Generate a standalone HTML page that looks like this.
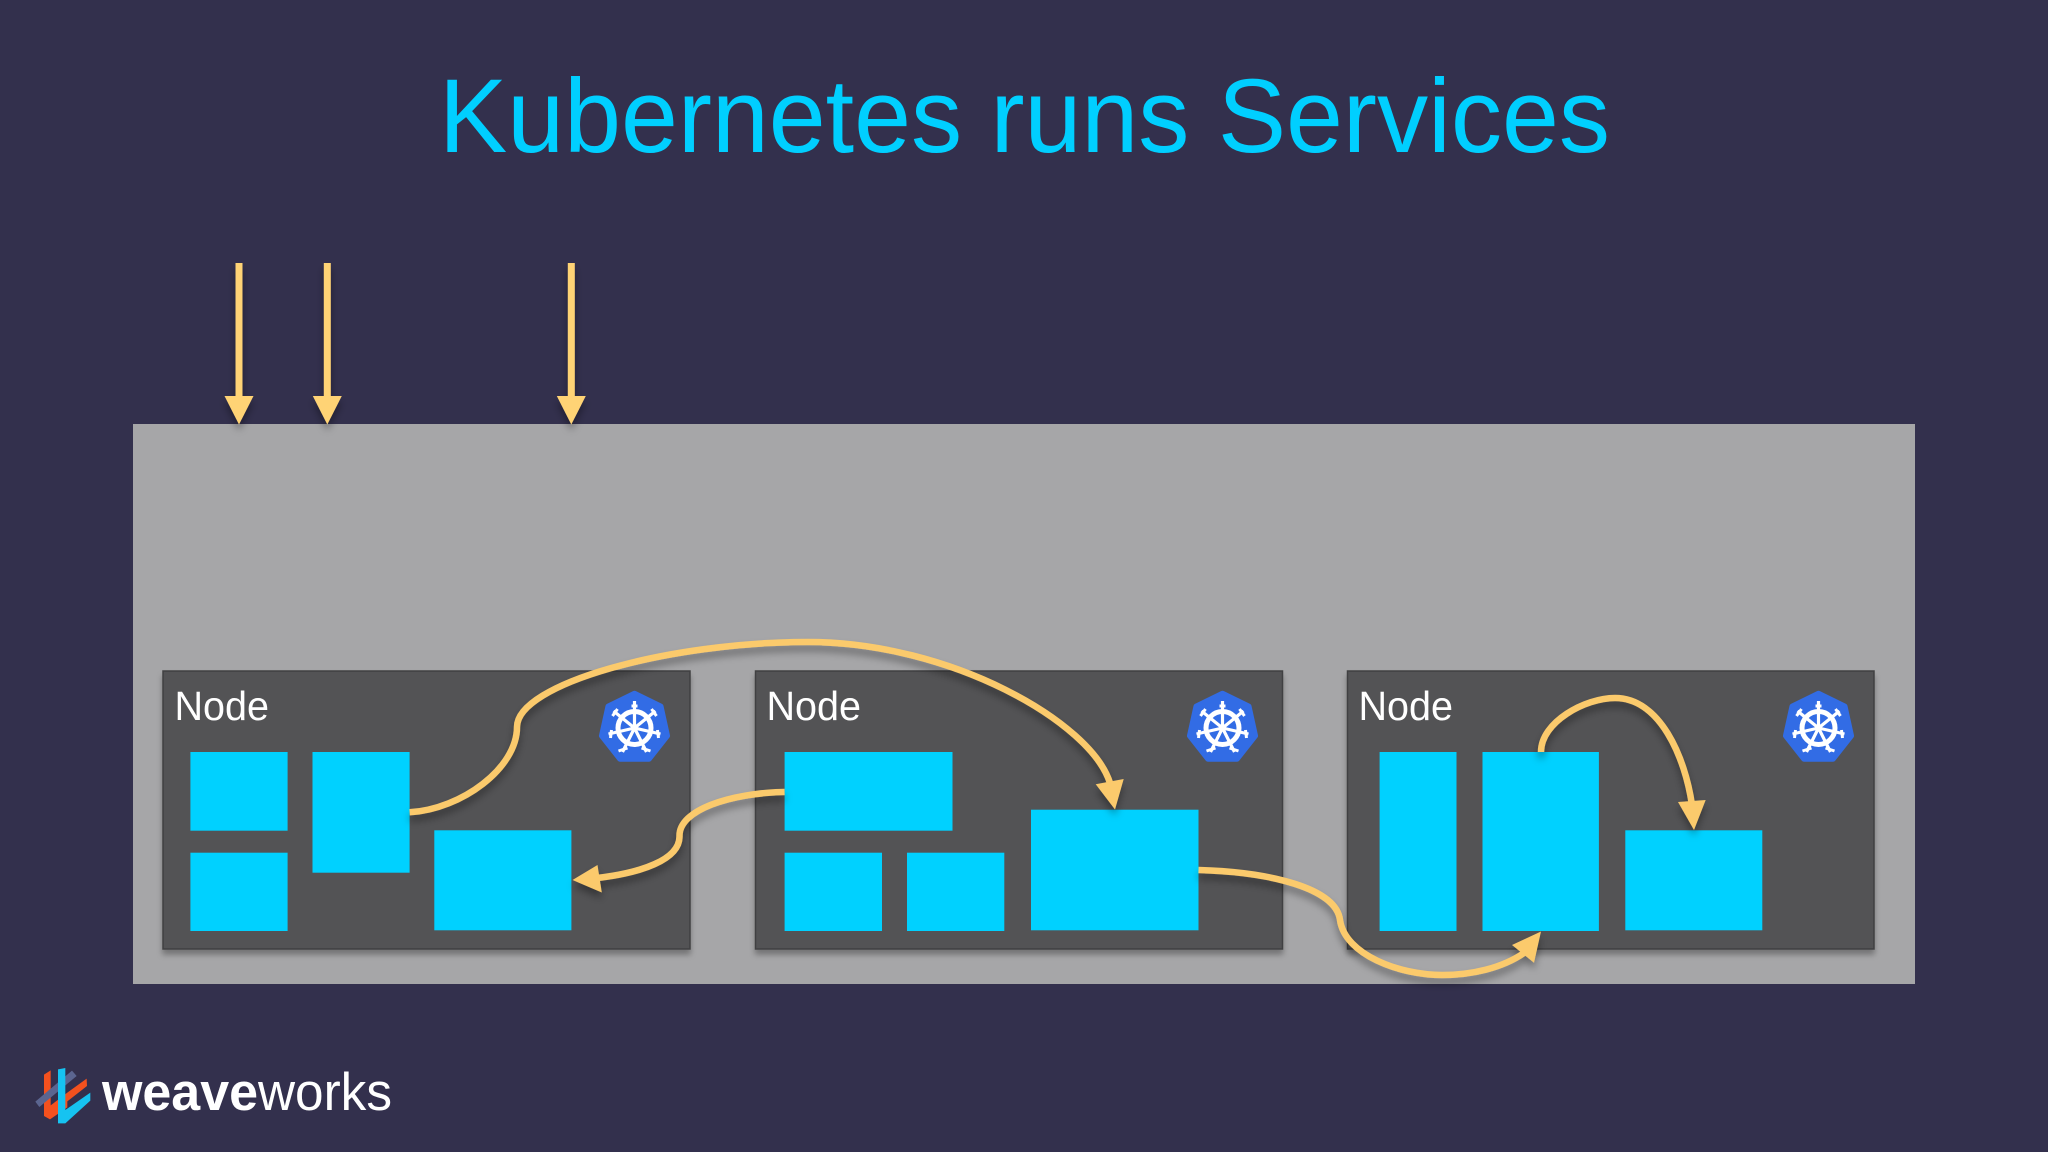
<!DOCTYPE html>
<html><head><meta charset="utf-8">
<style>
html,body{margin:0;padding:0;background:#33304d;width:2048px;height:1152px;overflow:hidden}
svg{display:block}
text{font-family:"Liberation Sans",sans-serif}
</style></head>
<body>
<svg xmlns="http://www.w3.org/2000/svg" width="2048" height="1152" viewBox="0 0 2048 1152">
<defs>
<filter id="sh" x="-10%" y="-10%" width="120%" height="120%"><feDropShadow dx="0" dy="5" stdDeviation="3" flood-color="#000" flood-opacity=".3"/></filter>
<filter id="ash" x="-20%" y="-20%" width="140%" height="140%"><feDropShadow dx="0" dy="6" stdDeviation="4" flood-color="#000" flood-opacity=".35"/></filter>
<g id="k8s">
<polygon points="0,-33.500 26.300,-20.600 32.800,8.800 14.500,32 -14.500,32 -32.800,8.800 -26.300,-20.600" fill="#326ce5" stroke="#326ce5" stroke-width="5.500" stroke-linejoin="round"/>
<g fill="none" stroke="#fff">
<circle cx="0" cy="1" r="16.500" stroke-width="5"/>
<g stroke-width="3.200">
<path d="M0 4V-26M0 1L21 -16M0 1L26 7M0 1L12 25M0 1L-12 25M0 1L-26 7M0 1L-21 -16"/>
<path d="M-3 -21H3M-22 -11L-17 -18M22 -11L17 -18M-24 11L-23 3M24 11L23 3M-16 24L-7 21M16 24L7 21" stroke-width="3"/>
</g>
</g>
<circle cx="0" cy="1" r="3.500" fill="#fff"/>
</g>
</defs>

<rect width="2048" height="1152" fill="#33304d"/>

<text x="439" y="152" font-size="105" fill="#00cfff" textLength="1171" lengthAdjust="spacingAndGlyphs">Kubernetes runs Services</text>

<rect x="133" y="424" width="1782" height="560" fill="#a6a6a8"/>

<g filter="url(#sh)">
<rect x="163" y="671" width="527" height="278" fill="#535355" stroke="#414143" stroke-width="1.5"/>
<rect x="755.500" y="671" width="527" height="278" fill="#535355" stroke="#414143" stroke-width="1.5"/>
<rect x="1347.500" y="671" width="526.500" height="278" fill="#535355" stroke="#414143" stroke-width="1.5"/>
</g>

<g font-size="40.500" fill="#fff">
<text x="174.500" y="720" textLength="94.500" lengthAdjust="spacingAndGlyphs">Node</text>
<text x="766.500" y="720" textLength="94.500" lengthAdjust="spacingAndGlyphs">Node</text>
<text x="1358.500" y="720" textLength="94.500" lengthAdjust="spacingAndGlyphs">Node</text>
</g>

<g fill="#00d1ff">
<rect x="190.400" y="752" width="97.200" height="78.700"/>
<rect x="190.400" y="852.700" width="97.200" height="78.300"/>
<rect x="312.500" y="752" width="97.100" height="120.700"/>
<rect x="434.300" y="830.300" width="137.100" height="100"/>
<rect x="784.600" y="752" width="167.900" height="78.700"/>
<rect x="784.600" y="852.700" width="97.400" height="78.300"/>
<rect x="907" y="852.700" width="97.300" height="78.300"/>
<rect x="1031" y="809.700" width="167.500" height="120.600"/>
<rect x="1379.600" y="752" width="76.900" height="179"/>
<rect x="1482.500" y="752" width="116.400" height="179"/>
<rect x="1625.300" y="830.300" width="137" height="100"/>
</g>

<use href="#k8s" x="634.500" y="727"/>
<use href="#k8s" x="1222.500" y="727"/>
<use href="#k8s" x="1818.500" y="727"/>

<g filter="url(#ash)">
<g fill="#ffd374" stroke="none">
<rect x="235.500" y="263" width="7" height="135"/><polygon points="224.500,396 253.500,396 239,424.500"/>
<rect x="323.800" y="263" width="7" height="135"/><polygon points="312.800,396 341.800,396 327.300,424.500"/>
<rect x="567.800" y="263" width="7" height="135"/><polygon points="556.800,396 585.800,396 571.300,424.500"/>
</g>
<g fill="none" stroke="#fbca6c" stroke-width="6.500">
<path d="M409.600 812.300C462 809 517 768 517 727C517 684 668 642 808 642C950 642 1091 722 1110 783"/>
<path d="M784.600 792C730 793 679 810 679.500 836C680 860 640 873 597 878"/>
<path d="M1198.500 870C1270 872 1336 888 1340 920C1345 955 1400 975 1442 975C1472 975 1502 968 1524 953"/>
<path d="M1541 752C1541 722 1585 698 1615 698C1660 698 1685 757 1692 805"/>
</g>
<g fill="#fbca6c">
<polygon points="1115,809.500 1095.700,784.300 1123.700,779"/>
<polygon points="572.500,880 597.500,865 601.800,892.500"/>
<polygon points="1541,931.500 1512,945 1534,962.700"/>
<polygon points="1694,830 1678,802 1705.700,800"/>
</g>
</g>

<g transform="translate(30,1060) scale(.3333)">
<polygon points="42,44 62,31 62,136 112,98 170,56 171,78 112,124 112,142 60,178 42,168" fill="#f4511e"/>
<polygon points="16,125 28,141 140,48 126,32" fill="#5b6590"/>
<polygon points="84,28 106,24 106,150 181,98 181,122 106,190 84,190" fill="#16c3f1"/>
</g>

<text x="102" y="1110" font-size="53" font-weight="700" fill="#fff" textLength="156" lengthAdjust="spacingAndGlyphs">weave</text>
<text x="258" y="1110" font-size="53" fill="#fff" textLength="134" lengthAdjust="spacingAndGlyphs">works</text>
</svg>
</body></html>
